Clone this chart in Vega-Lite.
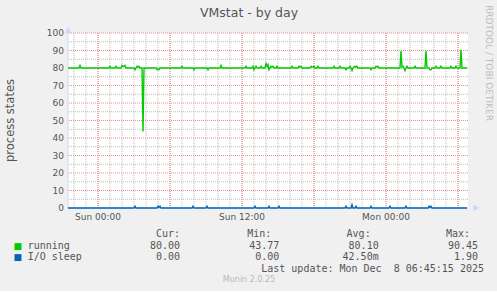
{
  "$schema": "https://vega.github.io/schema/vega-lite/v6.json",
  "background": "#f0f0f0",
  "padding": {"left": 4, "top": 5, "right": 4, "bottom": 7},
  "config": {"view": {"stroke": null}, "font": "DejaVu Sans"},
  "title": {"text": "Munin 2.0.25", "orient": "bottom", "anchor": "middle", "frame": "bounds", "font": "DejaVu Sans", "fontSize": 8, "fontWeight": "normal", "color": "#b8b8b8", "offset": 2},
  "spacing": 26,
  "bounds": "flush",
  "datasets": {
    "series": [
      {"t": "2025-12-06T21:30", "s": "running", "v": 80},
      {"t": "2025-12-06T22:25", "s": "running", "v": 80},
      {"t": "2025-12-06T22:30", "s": "running", "v": 81.5},
      {"t": "2025-12-06T22:35", "s": "running", "v": 80},
      {"t": "2025-12-07T00:55", "s": "running", "v": 80},
      {"t": "2025-12-07T01:00", "s": "running", "v": 81},
      {"t": "2025-12-07T01:05", "s": "running", "v": 80},
      {"t": "2025-12-07T01:25", "s": "running", "v": 80},
      {"t": "2025-12-07T01:30", "s": "running", "v": 81},
      {"t": "2025-12-07T01:35", "s": "running", "v": 80},
      {"t": "2025-12-07T01:55", "s": "running", "v": 80},
      {"t": "2025-12-07T02:00", "s": "running", "v": 81.5},
      {"t": "2025-12-07T02:05", "s": "running", "v": 81},
      {"t": "2025-12-07T02:10", "s": "running", "v": 81},
      {"t": "2025-12-07T02:15", "s": "running", "v": 81.5},
      {"t": "2025-12-07T02:20", "s": "running", "v": 80},
      {"t": "2025-12-07T03:00", "s": "running", "v": 80},
      {"t": "2025-12-07T03:05", "s": "running", "v": 79},
      {"t": "2025-12-07T03:10", "s": "running", "v": 80},
      {"t": "2025-12-07T03:15", "s": "running", "v": 81},
      {"t": "2025-12-07T03:20", "s": "running", "v": 80.5},
      {"t": "2025-12-07T03:25", "s": "running", "v": 81},
      {"t": "2025-12-07T03:30", "s": "running", "v": 80},
      {"t": "2025-12-07T03:40", "s": "running", "v": 80},
      {"t": "2025-12-07T03:45", "s": "running", "v": 43.77},
      {"t": "2025-12-07T03:50", "s": "running", "v": 80},
      {"t": "2025-12-07T04:50", "s": "running", "v": 80},
      {"t": "2025-12-07T04:55", "s": "running", "v": 79},
      {"t": "2025-12-07T05:00", "s": "running", "v": 79.5},
      {"t": "2025-12-07T05:05", "s": "running", "v": 79},
      {"t": "2025-12-07T05:10", "s": "running", "v": 80},
      {"t": "2025-12-07T06:55", "s": "running", "v": 80},
      {"t": "2025-12-07T07:00", "s": "running", "v": 81},
      {"t": "2025-12-07T07:05", "s": "running", "v": 80},
      {"t": "2025-12-07T07:55", "s": "running", "v": 80},
      {"t": "2025-12-07T08:00", "s": "running", "v": 79},
      {"t": "2025-12-07T08:05", "s": "running", "v": 80},
      {"t": "2025-12-07T09:05", "s": "running", "v": 80},
      {"t": "2025-12-07T09:10", "s": "running", "v": 79},
      {"t": "2025-12-07T09:15", "s": "running", "v": 80},
      {"t": "2025-12-07T10:10", "s": "running", "v": 80},
      {"t": "2025-12-07T10:15", "s": "running", "v": 81.5},
      {"t": "2025-12-07T10:20", "s": "running", "v": 80},
      {"t": "2025-12-07T12:15", "s": "running", "v": 80},
      {"t": "2025-12-07T12:20", "s": "running", "v": 81},
      {"t": "2025-12-07T12:25", "s": "running", "v": 80},
      {"t": "2025-12-07T12:50", "s": "running", "v": 80},
      {"t": "2025-12-07T12:55", "s": "running", "v": 81},
      {"t": "2025-12-07T13:00", "s": "running", "v": 79},
      {"t": "2025-12-07T13:05", "s": "running", "v": 80},
      {"t": "2025-12-07T13:10", "s": "running", "v": 81},
      {"t": "2025-12-07T13:15", "s": "running", "v": 80},
      {"t": "2025-12-07T13:30", "s": "running", "v": 80},
      {"t": "2025-12-07T13:35", "s": "running", "v": 81},
      {"t": "2025-12-07T13:40", "s": "running", "v": 80},
      {"t": "2025-12-07T13:55", "s": "running", "v": 80},
      {"t": "2025-12-07T14:00", "s": "running", "v": 82.5},
      {"t": "2025-12-07T14:05", "s": "running", "v": 81},
      {"t": "2025-12-07T14:10", "s": "running", "v": 82},
      {"t": "2025-12-07T14:15", "s": "running", "v": 79},
      {"t": "2025-12-07T14:20", "s": "running", "v": 80},
      {"t": "2025-12-07T14:25", "s": "running", "v": 81},
      {"t": "2025-12-07T14:30", "s": "running", "v": 80.5},
      {"t": "2025-12-07T14:35", "s": "running", "v": 81},
      {"t": "2025-12-07T14:40", "s": "running", "v": 80},
      {"t": "2025-12-07T14:50", "s": "running", "v": 80},
      {"t": "2025-12-07T14:55", "s": "running", "v": 81},
      {"t": "2025-12-07T15:00", "s": "running", "v": 80},
      {"t": "2025-12-07T16:05", "s": "running", "v": 80},
      {"t": "2025-12-07T16:10", "s": "running", "v": 81},
      {"t": "2025-12-07T16:15", "s": "running", "v": 80},
      {"t": "2025-12-07T16:40", "s": "running", "v": 80},
      {"t": "2025-12-07T16:45", "s": "running", "v": 81},
      {"t": "2025-12-07T16:50", "s": "running", "v": 80.5},
      {"t": "2025-12-07T16:55", "s": "running", "v": 81},
      {"t": "2025-12-07T17:00", "s": "running", "v": 80},
      {"t": "2025-12-07T17:40", "s": "running", "v": 80},
      {"t": "2025-12-07T17:45", "s": "running", "v": 81},
      {"t": "2025-12-07T17:50", "s": "running", "v": 80.5},
      {"t": "2025-12-07T17:55", "s": "running", "v": 80.5},
      {"t": "2025-12-07T18:00", "s": "running", "v": 81},
      {"t": "2025-12-07T18:05", "s": "running", "v": 80},
      {"t": "2025-12-07T18:15", "s": "running", "v": 80},
      {"t": "2025-12-07T18:20", "s": "running", "v": 81},
      {"t": "2025-12-07T18:25", "s": "running", "v": 80},
      {"t": "2025-12-07T19:35", "s": "running", "v": 80},
      {"t": "2025-12-07T19:40", "s": "running", "v": 81},
      {"t": "2025-12-07T19:45", "s": "running", "v": 80},
      {"t": "2025-12-07T20:05", "s": "running", "v": 80},
      {"t": "2025-12-07T20:10", "s": "running", "v": 81},
      {"t": "2025-12-07T20:15", "s": "running", "v": 80},
      {"t": "2025-12-07T20:35", "s": "running", "v": 80},
      {"t": "2025-12-07T20:40", "s": "running", "v": 79},
      {"t": "2025-12-07T20:45", "s": "running", "v": 80},
      {"t": "2025-12-07T20:55", "s": "running", "v": 80},
      {"t": "2025-12-07T21:00", "s": "running", "v": 81},
      {"t": "2025-12-07T21:05", "s": "running", "v": 80},
      {"t": "2025-12-07T21:10", "s": "running", "v": 78.5},
      {"t": "2025-12-07T21:15", "s": "running", "v": 80},
      {"t": "2025-12-07T21:20", "s": "running", "v": 80.5},
      {"t": "2025-12-07T21:25", "s": "running", "v": 81},
      {"t": "2025-12-07T21:30", "s": "running", "v": 80.5},
      {"t": "2025-12-07T21:35", "s": "running", "v": 81},
      {"t": "2025-12-07T21:40", "s": "running", "v": 80},
      {"t": "2025-12-07T22:40", "s": "running", "v": 80},
      {"t": "2025-12-07T22:45", "s": "running", "v": 79},
      {"t": "2025-12-07T22:50", "s": "running", "v": 80},
      {"t": "2025-12-07T23:05", "s": "running", "v": 80},
      {"t": "2025-12-07T23:10", "s": "running", "v": 81},
      {"t": "2025-12-07T23:15", "s": "running", "v": 80.5},
      {"t": "2025-12-07T23:20", "s": "running", "v": 81},
      {"t": "2025-12-07T23:25", "s": "running", "v": 80},
      {"t": "2025-12-08T01:10", "s": "running", "v": 80},
      {"t": "2025-12-08T01:15", "s": "running", "v": 89.7},
      {"t": "2025-12-08T01:20", "s": "running", "v": 80.5},
      {"t": "2025-12-08T01:25", "s": "running", "v": 81},
      {"t": "2025-12-08T01:30", "s": "running", "v": 80},
      {"t": "2025-12-08T01:35", "s": "running", "v": 78.5},
      {"t": "2025-12-08T01:40", "s": "running", "v": 80},
      {"t": "2025-12-08T01:45", "s": "running", "v": 81},
      {"t": "2025-12-08T01:50", "s": "running", "v": 80},
      {"t": "2025-12-08T02:20", "s": "running", "v": 80},
      {"t": "2025-12-08T02:25", "s": "running", "v": 81},
      {"t": "2025-12-08T02:30", "s": "running", "v": 80},
      {"t": "2025-12-08T03:15", "s": "running", "v": 80},
      {"t": "2025-12-08T03:20", "s": "running", "v": 89.9},
      {"t": "2025-12-08T03:25", "s": "running", "v": 80},
      {"t": "2025-12-08T03:35", "s": "running", "v": 80},
      {"t": "2025-12-08T03:40", "s": "running", "v": 79},
      {"t": "2025-12-08T03:45", "s": "running", "v": 79},
      {"t": "2025-12-08T03:50", "s": "running", "v": 80},
      {"t": "2025-12-08T04:05", "s": "running", "v": 80},
      {"t": "2025-12-08T04:10", "s": "running", "v": 81},
      {"t": "2025-12-08T04:15", "s": "running", "v": 80},
      {"t": "2025-12-08T04:30", "s": "running", "v": 80},
      {"t": "2025-12-08T04:35", "s": "running", "v": 81},
      {"t": "2025-12-08T04:40", "s": "running", "v": 80},
      {"t": "2025-12-08T05:20", "s": "running", "v": 80},
      {"t": "2025-12-08T05:25", "s": "running", "v": 81},
      {"t": "2025-12-08T05:30", "s": "running", "v": 80},
      {"t": "2025-12-08T05:45", "s": "running", "v": 80},
      {"t": "2025-12-08T05:50", "s": "running", "v": 81},
      {"t": "2025-12-08T05:55", "s": "running", "v": 80},
      {"t": "2025-12-08T06:10", "s": "running", "v": 80},
      {"t": "2025-12-08T06:15", "s": "running", "v": 90.45},
      {"t": "2025-12-08T06:20", "s": "running", "v": 80},
      {"t": "2025-12-08T06:45", "s": "running", "v": 80},
      {"t": "2025-12-06T21:30", "s": "I/O sleep", "v": 0},
      {"t": "2025-12-07T03:00", "s": "I/O sleep", "v": 0},
      {"t": "2025-12-07T03:05", "s": "I/O sleep", "v": 1},
      {"t": "2025-12-07T03:10", "s": "I/O sleep", "v": 0},
      {"t": "2025-12-07T04:55", "s": "I/O sleep", "v": 0},
      {"t": "2025-12-07T05:00", "s": "I/O sleep", "v": 1},
      {"t": "2025-12-07T05:05", "s": "I/O sleep", "v": 0.3},
      {"t": "2025-12-07T05:10", "s": "I/O sleep", "v": 1},
      {"t": "2025-12-07T05:15", "s": "I/O sleep", "v": 0},
      {"t": "2025-12-07T07:50", "s": "I/O sleep", "v": 0},
      {"t": "2025-12-07T07:55", "s": "I/O sleep", "v": 1},
      {"t": "2025-12-07T08:00", "s": "I/O sleep", "v": 0},
      {"t": "2025-12-07T09:00", "s": "I/O sleep", "v": 0},
      {"t": "2025-12-07T09:05", "s": "I/O sleep", "v": 1},
      {"t": "2025-12-07T09:10", "s": "I/O sleep", "v": 0},
      {"t": "2025-12-07T13:00", "s": "I/O sleep", "v": 0},
      {"t": "2025-12-07T13:05", "s": "I/O sleep", "v": 1},
      {"t": "2025-12-07T13:10", "s": "I/O sleep", "v": 0},
      {"t": "2025-12-07T14:10", "s": "I/O sleep", "v": 0},
      {"t": "2025-12-07T14:15", "s": "I/O sleep", "v": 1},
      {"t": "2025-12-07T14:20", "s": "I/O sleep", "v": 0},
      {"t": "2025-12-07T15:00", "s": "I/O sleep", "v": 0},
      {"t": "2025-12-07T15:05", "s": "I/O sleep", "v": 1},
      {"t": "2025-12-07T15:10", "s": "I/O sleep", "v": 0},
      {"t": "2025-12-07T20:35", "s": "I/O sleep", "v": 0},
      {"t": "2025-12-07T20:40", "s": "I/O sleep", "v": 1},
      {"t": "2025-12-07T20:45", "s": "I/O sleep", "v": 0},
      {"t": "2025-12-07T21:05", "s": "I/O sleep", "v": 0},
      {"t": "2025-12-07T21:10", "s": "I/O sleep", "v": 1.9},
      {"t": "2025-12-07T21:15", "s": "I/O sleep", "v": 0},
      {"t": "2025-12-07T21:25", "s": "I/O sleep", "v": 0},
      {"t": "2025-12-07T21:30", "s": "I/O sleep", "v": 1},
      {"t": "2025-12-07T21:35", "s": "I/O sleep", "v": 0},
      {"t": "2025-12-07T22:40", "s": "I/O sleep", "v": 0},
      {"t": "2025-12-07T22:45", "s": "I/O sleep", "v": 1},
      {"t": "2025-12-07T22:50", "s": "I/O sleep", "v": 0},
      {"t": "2025-12-08T00:15", "s": "I/O sleep", "v": 0},
      {"t": "2025-12-08T00:20", "s": "I/O sleep", "v": 1},
      {"t": "2025-12-08T00:25", "s": "I/O sleep", "v": 0},
      {"t": "2025-12-08T01:35", "s": "I/O sleep", "v": 0},
      {"t": "2025-12-08T01:40", "s": "I/O sleep", "v": 1},
      {"t": "2025-12-08T01:45", "s": "I/O sleep", "v": 0},
      {"t": "2025-12-08T03:30", "s": "I/O sleep", "v": 0},
      {"t": "2025-12-08T03:35", "s": "I/O sleep", "v": 1},
      {"t": "2025-12-08T03:40", "s": "I/O sleep", "v": 0.3},
      {"t": "2025-12-08T03:45", "s": "I/O sleep", "v": 1},
      {"t": "2025-12-08T03:50", "s": "I/O sleep", "v": 0},
      {"t": "2025-12-08T06:45", "s": "I/O sleep", "v": 0}
    ],
    "gridHours": [
      {"t": "2025-12-06T22:00", "span": [0, 100]}, {"t": "2025-12-06T23:00", "span": [0, 100]},
      {"t": "2025-12-07T00:00", "span": [0, 100]}, {"t": "2025-12-07T01:00", "span": [0, 100]}, {"t": "2025-12-07T02:00", "span": [0, 100]}, {"t": "2025-12-07T03:00", "span": [0, 100]},
      {"t": "2025-12-07T04:00", "span": [0, 100]}, {"t": "2025-12-07T05:00", "span": [0, 100]}, {"t": "2025-12-07T06:00", "span": [0, 100]}, {"t": "2025-12-07T07:00", "span": [0, 100]},
      {"t": "2025-12-07T08:00", "span": [0, 100]}, {"t": "2025-12-07T09:00", "span": [0, 100]}, {"t": "2025-12-07T10:00", "span": [0, 100]}, {"t": "2025-12-07T11:00", "span": [0, 100]},
      {"t": "2025-12-07T12:00", "span": [0, 100]}, {"t": "2025-12-07T13:00", "span": [0, 100]}, {"t": "2025-12-07T14:00", "span": [0, 100]}, {"t": "2025-12-07T15:00", "span": [0, 100]},
      {"t": "2025-12-07T16:00", "span": [0, 100]}, {"t": "2025-12-07T17:00", "span": [0, 100]}, {"t": "2025-12-07T18:00", "span": [0, 100]}, {"t": "2025-12-07T19:00", "span": [0, 100]},
      {"t": "2025-12-07T20:00", "span": [0, 100]}, {"t": "2025-12-07T21:00", "span": [0, 100]}, {"t": "2025-12-07T22:00", "span": [0, 100]}, {"t": "2025-12-07T23:00", "span": [0, 100]},
      {"t": "2025-12-08T00:00", "span": [0, 100]}, {"t": "2025-12-08T01:00", "span": [0, 100]}, {"t": "2025-12-08T02:00", "span": [0, 100]}, {"t": "2025-12-08T03:00", "span": [0, 100]},
      {"t": "2025-12-08T04:00", "span": [0, 100]}, {"t": "2025-12-08T05:00", "span": [0, 100]}, {"t": "2025-12-08T06:00", "span": [0, 100]}
    ],
    "gridSixHours": [
      {"t": "2025-12-07T00:00", "span": [0, 100]}, {"t": "2025-12-07T06:00", "span": [0, 100]}, {"t": "2025-12-07T12:00", "span": [0, 100]},
      {"t": "2025-12-07T18:00", "span": [0, 100]}, {"t": "2025-12-08T00:00", "span": [0, 100]}, {"t": "2025-12-08T06:00", "span": [0, 100]}
    ],
    "axisLeft": [
      {"t": "2025-12-06T21:30", "span": [0, 100]}
    ],
    "gridMinorY": [
      {"v": 5}, {"v": 15}, {"v": 25}, {"v": 35}, {"v": 45}, {"v": 55}, {"v": 65}, {"v": 75}, {"v": 85}, {"v": 95}
    ],
    "gridMajorY": [
      {"v": 10}, {"v": 20}, {"v": 30}, {"v": 40}, {"v": 50}, {"v": 60}, {"v": 70}, {"v": 80}, {"v": 90}, {"v": 100}
    ],
    "yLabels": [
      {"v": 0, "label": "0"}, {"v": 10, "label": "10"}, {"v": 20, "label": "20"}, {"v": 30, "label": "30"},
      {"v": 40, "label": "40"}, {"v": 50, "label": "50"}, {"v": 60, "label": "60"}, {"v": 70, "label": "70"},
      {"v": 80, "label": "80"}, {"v": 90, "label": "90"}, {"v": 100, "label": "100"}
    ],
    "xLabels": [
      {"t": "2025-12-07T00:00", "label": "Sun 00:00"},
      {"t": "2025-12-07T12:00", "label": "Sun 12:00"},
      {"t": "2025-12-08T00:00", "label": "Mon 00:00"}
    ],
    "frame": [
      {"part": "axis"}
    ],
    "vendor": [
      {"t": "2025-12-08T06:50", "v": 100, "label": "RRDTOOL / TOBI OETIKER"}
    ],
    "ytitle": [
      {"t": "2025-12-06T21:30", "v": 50, "label": "process states"}
    ],
    "stats": [
      {"s": "running", "cur": "80.00", "min": "43.77", "avg": "80.10", "max": "90.45"},
      {"s": "I/O sleep", "cur": "0.00", "min": "0.00", "avg": "42.50m", "max": "1.90"}
    ],
    "headers": [
      {"stat": "cur", "label": "Cur:"},
      {"stat": "min", "label": "Min:"},
      {"stat": "avg", "label": "Avg:"},
      {"stat": "max", "label": "Max:"}
    ],
    "footer": [
      {"label": "Last update: Mon Dec\u00a0 8 06:45:15 2025"}
    ]
  },
  "vconcat": [
    {
      "width": 400,
      "height": 175,
      "view": {"fill": "#ffffff", "stroke": null},
      "title": {"text": "VMstat - by day", "anchor": "middle", "frame": "bounds", "font": "DejaVu Sans", "fontSize": 12.5, "fontWeight": "normal", "color": "#555555", "offset": -14},
      "layer": [
        {
          "data": {"name": "series"},
          "mark": {"type": "line", "opacity": 0},
          "encoding": {
            "x": {"field": "t", "type": "temporal",
              "scale": {"domain": [{"year": 2025, "month": 12, "date": 6, "hours": 21, "minutes": 30}, {"year": 2025, "month": 12, "date": 8, "hours": 6, "minutes": 50}], "nice": false}, "axis": null},
            "y": {"field": "v", "type": "quantitative", "scale": {"domain": [0, 100], "nice": false}, "axis": null},
            "color": {"field": "s", "type": "nominal", "scale": {"domain": ["running", "I/O sleep"], "range": ["#00cc00", "#0066b3"]}, "legend": null}
          }
        },
        {
          "data": {"name": "gridHours"},
          "transform": [{"flatten": ["span"]}],
          "mark": {"type": "line", "color": "#bdbdbd", "strokeDash": [1, 1], "strokeWidth": 1},
          "encoding": {
            "x": {"field": "t", "type": "temporal", "axis": null},
            "y": {"field": "span", "type": "quantitative", "axis": null},
            "detail": {"field": "t", "type": "nominal"}
          }
        },
        {
          "data": {"name": "gridMinorY"},
          "mark": {"type": "rule", "color": "#bdbdbd", "strokeDash": [1, 1], "strokeWidth": 1},
          "encoding": {
            "y": {"field": "v", "type": "quantitative", "axis": null}
          }
        },
        {
          "data": {"name": "gridSixHours"},
          "transform": [{"flatten": ["span"]}],
          "mark": {"type": "line", "color": "#ea8e8e", "strokeDash": [1, 1], "strokeWidth": 1},
          "encoding": {
            "x": {"field": "t", "type": "temporal", "axis": null},
            "y": {"field": "span", "type": "quantitative", "axis": null},
            "detail": {"field": "t", "type": "nominal"}
          }
        },
        {
          "data": {"name": "gridMajorY"},
          "mark": {"type": "rule", "color": "#ea8e8e", "strokeDash": [1, 1], "strokeWidth": 1},
          "encoding": {
            "y": {"field": "v", "type": "quantitative", "axis": null}
          }
        },
        {
          "data": {"name": "frame"},
          "mark": {"type": "rule", "color": "#cfd6f8", "strokeWidth": 1},
          "encoding": {
            "y": {"datum": 0, "type": "quantitative", "axis": null}
          }
        },
        {
          "data": {"name": "axisLeft"},
          "transform": [{"flatten": ["span"]}],
          "mark": {"type": "line", "color": "#cfd6f8", "strokeWidth": 1},
          "encoding": {
            "x": {"field": "t", "type": "temporal", "axis": null},
            "y": {"field": "span", "type": "quantitative", "axis": null}
          }
        },
        {
          "data": {"name": "series"},
          "mark": {"type": "line", "strokeWidth": 1.4},
          "encoding": {
            "x": {"field": "t", "type": "temporal", "axis": null},
            "y": {"field": "v", "type": "quantitative", "axis": null},
            "color": {"field": "s", "type": "nominal", "legend": null}
          }
        },
        {
          "data": {"name": "yLabels"},
          "mark": {"type": "text", "align": "right", "baseline": "middle", "font": "DejaVu Sans", "fontSize": 9, "color": "#555555", "dx": -4},
          "encoding": {
            "x": {"datum": {"year": 2025, "month": 12, "date": 6, "hours": 21, "minutes": 30}, "type": "temporal", "axis": null},
            "y": {"field": "v", "type": "quantitative", "axis": null},
            "text": {"field": "label"}
          }
        },
        {
          "data": {"name": "xLabels"},
          "mark": {"type": "text", "align": "center", "baseline": "middle", "font": "DejaVu Sans", "fontSize": 9, "color": "#555555", "dy": 8.5},
          "encoding": {
            "x": {"field": "t", "type": "temporal", "axis": null},
            "y": {"datum": 0, "type": "quantitative", "axis": null},
            "text": {"field": "label"}
          }
        },
        {
          "data": {"name": "vendor"},
          "mark": {"type": "text", "angle": 90, "align": "left", "baseline": "middle", "font": "DejaVu Sans", "fontSize": 9, "color": "#bcbcbc", "dx": -28, "dy": -21},
          "encoding": {
            "x": {"field": "t", "type": "temporal", "axis": null},
            "y": {"field": "v", "type": "quantitative", "axis": null},
            "text": {"field": "label"}
          }
        },
        {
          "data": {"name": "vendor"},
          "mark": {"type": "text", "text": "▶", "align": "left", "baseline": "middle", "font": "DejaVu Sans", "fontSize": 8, "color": "#cfd6f8", "dx": 5},
          "encoding": {
            "x": {"field": "t", "type": "temporal", "axis": null},
            "y": {"datum": 0, "type": "quantitative", "axis": null}
          }
        },
        {
          "data": {"name": "ytitle"},
          "mark": {"type": "text", "text": "▲", "align": "center", "baseline": "bottom", "font": "DejaVu Sans", "fontSize": 8, "color": "#cfd6f8", "dy": 1},
          "encoding": {
            "x": {"field": "t", "type": "temporal", "axis": null},
            "y": {"datum": 100, "type": "quantitative", "axis": null}
          }
        },
        {
          "data": {"name": "ytitle"},
          "mark": {"type": "text", "angle": 270, "align": "center", "baseline": "middle", "font": "DejaVu Sans", "fontSize": 11.5, "color": "#555555", "dy": -57},
          "encoding": {
            "x": {"field": "t", "type": "temporal", "axis": null},
            "y": {"field": "v", "type": "quantitative", "axis": null},
            "text": {"field": "label"}
          }
        }
      ]
    },
    {
      "width": 400,
      "height": 35,
      "layer": [
        {
          "data": {"name": "stats"},
          "transform": [{"fold": ["cur", "min", "avg", "max"], "as": ["stat", "val"]}],
          "mark": {"type": "text", "align": "right", "baseline": "middle", "font": "DejaVu Sans Mono", "fontSize": 10, "color": "#555555"},
          "encoding": {
            "x": {"field": "stat", "type": "nominal", "scale": {"type": "point", "domain": ["name", "cur", "min", "avg", "max"], "range": [12.7, 410], "padding": 0}, "axis": null},
            "y": {"field": "s", "type": "nominal", "scale": {"type": "point", "domain": ["header", "running", "I/O sleep", "update"], "range": [0, 35], "padding": 0}, "axis": null},
            "text": {"field": "val"}
          }
        },
        {
          "data": {"name": "headers"},
          "transform": [{"filter": "datum.stat === 'cur'"}],
          "mark": {"type": "text", "align": "right", "baseline": "middle", "font": "DejaVu Sans Mono", "fontSize": 10, "color": "#555555"},
          "encoding": {
            "x": {"field": "stat", "type": "nominal", "axis": null},
            "y": {"datum": "header", "axis": null},
            "text": {"field": "label"}
          }
        },
        {
          "data": {"name": "headers"},
          "transform": [{"filter": "datum.stat !== 'cur'"}],
          "mark": {"type": "text", "align": "right", "baseline": "middle", "font": "DejaVu Sans Mono", "fontSize": 10, "color": "#555555", "dx": -8},
          "encoding": {
            "x": {"field": "stat", "type": "nominal", "axis": null},
            "y": {"datum": "header", "axis": null},
            "text": {"field": "label"}
          }
        },
        {
          "data": {"name": "stats"},
          "mark": {"type": "text", "align": "left", "baseline": "middle", "font": "DejaVu Sans Mono", "fontSize": 10, "color": "#555555", "dx": -53},
          "encoding": {
            "x": {"datum": "name", "axis": null},
            "y": {"field": "s", "type": "nominal", "axis": null},
            "text": {"field": "s"}
          }
        },
        {
          "data": {"name": "stats"},
          "mark": {"type": "text", "text": "■", "align": "center", "baseline": "middle", "font": "DejaVu Sans", "fontSize": 9, "dx": -63},
          "encoding": {
            "x": {"datum": "name", "axis": null},
            "y": {"field": "s", "type": "nominal", "axis": null},
            "color": {"field": "s", "type": "nominal", "scale": {"domain": ["running", "I/O sleep"], "range": ["#00cc00", "#0066b3"]}, "legend": null}
          }
        },
        {
          "data": {"name": "footer"},
          "mark": {"type": "text", "align": "right", "baseline": "middle", "font": "DejaVu Sans Mono", "fontSize": 10, "color": "#555555", "dx": 6},
          "encoding": {
            "x": {"datum": "max", "axis": null},
            "y": {"datum": "update", "axis": null},
            "text": {"field": "label"}
          }
        }
      ]
    }
  ]
}
